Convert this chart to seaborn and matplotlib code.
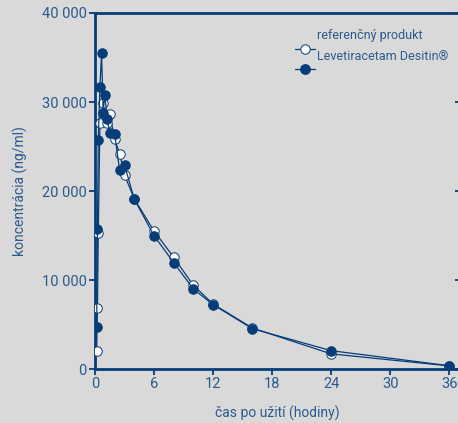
import numpy as np
import pandas as pd
import matplotlib
matplotlib.use("Agg")
import matplotlib.pyplot as plt
import seaborn as sns
from matplotlib.lines import Line2D
from matplotlib.ticker import FuncFormatter

# values
time_ref = [0.167, 0.25, 0.333, 0.5, 0.833, 1.25, 1.5, 2, 2.5, 3, 4, 6, 8, 10, 12, 16, 24, 36]
conc_ref = [2060, 6820, 15240, 27600, 29920, 27600, 28650, 25800, 24200, 21800, 19100,
            15500, 12550, 9400, 7300, 4600, 1700, 350]

time_des = [0.167, 0.25, 0.333, 0.5, 0.667, 0.833, 1, 1.25, 1.5, 2, 2.5, 3, 4, 6, 8, 10, 12, 16, 24, 36]
conc_des = [4680, 15690, 25730, 31650, 35470, 28800, 30790, 28040, 26470, 26360, 22360, 22920,
            19060, 14980, 11950, 8990, 7230, 4530, 2060, 370]

labels = ["referenčný produkt", "Levetiracetam Desitin®"]
x_ticks = [0, 6, 12, 18, 24, 30, 36]
y_ticks = [0, 10000, 20000, 30000, 40000]

dark = "#063d78"
txt = "#2a5a8e"
bg = "#d9d9d9"

sns.set_style("ticks")
plt.rcParams['font.family'] = ['Roboto', 'DejaVu Sans']

df_ref = pd.DataFrame({"t": time_ref, "c": conc_ref})
df_des = pd.DataFrame({"t": time_des, "c": conc_des})

fig = plt.figure(figsize=(4.58, 4.23), dpi=100, facecolor=bg)
ax = fig.add_axes([95/458, 54/423, 364/458, 356/423])
ax.set_facecolor(bg)

ms = 6.8
sns.lineplot(data=df_ref, x="t", y="c", ax=ax, sort=False, estimator=None, color=dark, lw=0.9,
             marker="o", markersize=ms, markerfacecolor="white", markeredgecolor=dark,
             markeredgewidth=0.7, zorder=3)
sns.lineplot(data=df_des, x="t", y="c", ax=ax, sort=False, estimator=None, color=dark, lw=0.9,
             marker="o", markersize=ms, markerfacecolor=dark, markeredgecolor=dark, zorder=4)

ax.set_xlim(0, 37)
ax.set_ylim(0, 40000)
ax.set_xticks(x_ticks)
ax.set_yticks(y_ticks)
ax.yaxis.set_major_formatter(FuncFormatter(lambda v, p: f"{int(v):,}".replace(",", " ")))

for s in ax.spines.values():
    s.set_color(dark)
    s.set_linewidth(2)
ax.tick_params(axis="both", colors=dark, labelcolor=txt, labelsize=10.5, length=4, width=1.3)
ax.tick_params(axis="x", pad=2)
ax.tick_params(axis="y", pad=2)
ax.yaxis.set_ticks_position("both")
for t in ax.yaxis.get_major_ticks():
    t.tick2line.set_marker(0)
    t.tick2line.set_markersize(3)

ax.set_xlabel("čas po užití (hodiny)", color=txt, fontsize=10, labelpad=10)
ax.set_ylabel("koncentrácia (ng/ml)", color=txt, fontsize=10, labelpad=10)

# legend drawn by hand: labels sit above their markers as in the original
tr = ax.transAxes
ax.add_line(Line2D([0.549, 0.577, 0.604], [0.899, 0.899, 0.899], transform=tr, color=dark, lw=0.9,
                   marker="o", markevery=[1], markersize=ms, markerfacecolor="white",
                   markeredgecolor=dark, markeredgewidth=0.7, clip_on=False))
ax.add_line(Line2D([0.549, 0.577, 0.604], [0.843, 0.843, 0.843], transform=tr, color=dark, lw=0.9,
                   marker="o", markevery=[1], markersize=ms, markerfacecolor=dark,
                   markeredgecolor=dark, clip_on=False))
ax.text(0.610, 0.938, labels[0], transform=tr, color=txt, fontsize=9, va="center", ha="left")
ax.text(0.610, 0.879, labels[1], transform=tr, color=txt, fontsize=9, va="center", ha="left")

fig.savefig("out.png", dpi=100, facecolor=bg)
